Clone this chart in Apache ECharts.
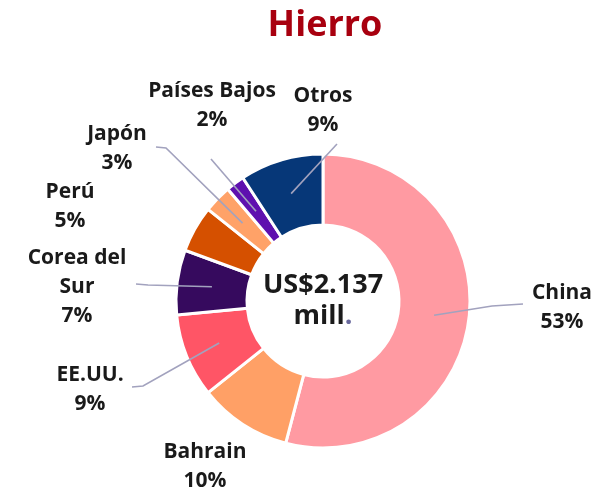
<!DOCTYPE html>
<html>
<head>
<meta charset="utf-8">
<script src="https://cdn.jsdelivr.net/npm/echarts@6/dist/echarts.min.js"></script>
<style>
  html, body { margin: 0; padding: 0; background: #fff; }
  #chart { width: 616px; height: 493px; }
</style>
</head>
<body>
<div id="chart"></div>
<script>
// Importaciones de hierro por país de origen (% del total)
const countries = ['China', 'Bahrain', 'EE.UU.', 'Corea del Sur', 'Perú', 'Japón', 'Países Bajos', 'Otros'];
const shares = [53, 10, 9, 7, 5, 3, 2, 9];
const sliceColors = ['#FF9AA2', '#FFA066', '#FF5566', '#360A5E', '#D55000', '#FFA268', '#5E10AF', '#063778'];
const totalText = 'US$2.137';
const totalUnit = 'mill';

// Ring geometry
const CX = 323, CY = 301, R_IN = 76, R_OUT = 147, R_LINE = 112;

// Label anchor (text block centre) and leader line tail points per slice
const labelSpots = [
  { at: [562, 308], line: [[492, 306], [523, 304]] },
  { at: [205, 467], line: null },
  { at: [90, 390], line: [[143, 386], [132, 387]] },
  { at: [77, 287], line: [[148, 285], [136, 284]] },
  { at: [70, 207], line: null },
  { at: [117, 149], line: [[166, 148], [156, 147]] },
  { at: [212, 106], line: [[211, 159]] },
  { at: [323, 111], line: [[337, 144]] }
];

// Mid angle of each slice, measured clockwise from 12 o'clock
const total = shares.reduce((a, b) => a + b, 0);
const midAngles = [];
let acc = 0;
shares.forEach(v => {
  midAngles.push((acc + v / 2) / total * 2 * Math.PI);
  acc += v;
});

// Leader lines run from the middle of the ring band of each slice out to its label
const leaderLines = [];
labelSpots.forEach((spot, i) => {
  if (!spot.line) return;
  const a = midAngles[i];
  const start = [CX + R_LINE * Math.sin(a), CY - R_LINE * Math.cos(a)];
  leaderLines.push({
    type: 'polyline',
    z: 100,
    silent: true,
    shape: { points: [start].concat(spot.line) },
    style: { stroke: '#A2A2BE', lineWidth: 1.6, fill: null }
  });
});

const chart = echarts.init(document.getElementById('chart'), null, { renderer: 'canvas' });

chart.setOption({
  animation: false,
  title: {
    text: 'Hierro',
    left: 320,
    top: 3,
    textAlign: 'center',
    textStyle: { color: '#A8000F', fontSize: 36, fontWeight: 'bold', fontFamily: 'Open Sans' }
  },
  graphic: leaderLines.concat([{
    type: 'text',
    x: CX,
    y: CY,
    z: 100,
    style: {
      text: totalText + '\n' + totalUnit + '{dot|.}',
      align: 'center',
      verticalAlign: 'middle',
      fill: '#1A1A1A',
      font: 'bold 27px "Open Sans"',
      lineHeight: 31,
      rich: {
        dot: { fill: '#6A6A9E', font: 'bold 27px "Open Sans"', lineHeight: 31 }
      }
    }
  }]),
  series: [{
    type: 'pie',
    center: [CX, CY],
    radius: [R_IN, R_OUT],
    startAngle: 90,
    clockwise: true,
    avoidLabelOverlap: false,
    itemStyle: { borderColor: '#fff', borderWidth: 3 },
    label: {
      show: true,
      position: 'outside',
      formatter: p => (p.name === 'Corea del Sur' ? 'Corea del\nSur' : p.name) + '\n' + p.value + '%',
      color: '#1A1A1A',
      fontSize: 21,
      fontWeight: 'bold',
      fontFamily: 'Open Sans',
      lineHeight: 29,
      align: 'center'
    },
    labelLine: { show: false },
    labelLayout: function (params) {
      const spot = labelSpots[params.dataIndex];
      return { x: spot.at[0], y: spot.at[1], align: 'center', verticalAlign: 'middle' };
    },
    data: countries.map((name, i) => ({
      name: name,
      value: shares[i],
      itemStyle: { color: sliceColors[i] }
    }))
  }]
});
</script>
</body>
</html>
